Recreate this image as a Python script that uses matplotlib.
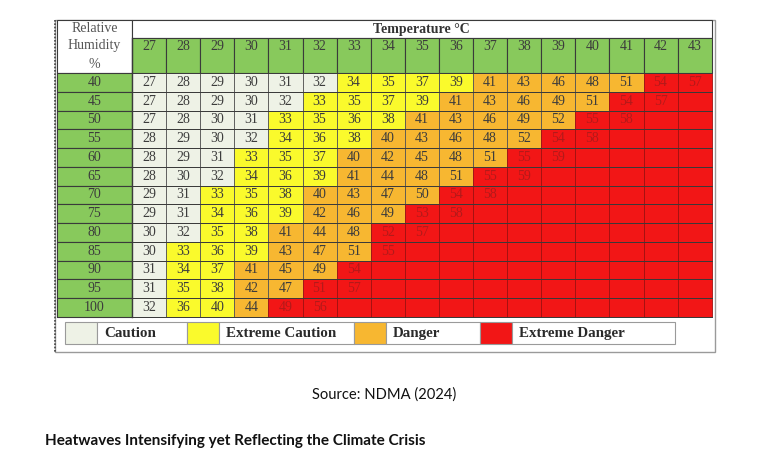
import matplotlib
matplotlib.use("Agg")
import matplotlib.pyplot as plt
from matplotlib.patches import Rectangle

# heat index table (NDMA 2024)
temps = list(range(27, 44))
humidity = [40, 45, 50, 55, 60, 65, 70, 75, 80, 85, 90, 95, 100]
heat_index = [
    [27, 28, 29, 30, 31, 32, 34, 35, 37, 39, 41, 43, 46, 48, 51, 54, 57],
    [27, 28, 29, 30, 32, 33, 35, 37, 39, 41, 43, 46, 49, 51, 54, 57],
    [27, 28, 30, 31, 33, 35, 36, 38, 41, 43, 46, 49, 52, 55, 58],
    [28, 29, 30, 32, 34, 36, 38, 40, 43, 46, 48, 52, 54, 58],
    [28, 29, 31, 33, 35, 37, 40, 42, 45, 48, 51, 55, 59],
    [28, 30, 32, 34, 36, 39, 41, 44, 48, 51, 55, 59],
    [29, 31, 33, 35, 38, 40, 43, 47, 50, 54, 58],
    [29, 31, 34, 36, 39, 42, 46, 49, 53, 58],
    [30, 32, 35, 38, 41, 44, 48, 52, 57],
    [30, 33, 36, 39, 43, 47, 51, 55],
    [31, 34, 37, 41, 45, 49, 54],
    [31, 35, 38, 42, 47, 51, 57],
    [32, 36, 40, 44, 49, 56],
]
# risk level of each cell: 0 caution, 1 extreme caution, 2 danger, 3 extreme danger
levels = [
    "00000011112222233",
    "00000111122222333",
    "00001111222223333",
    "00001112222233333",
    "00011122222333333",
    "00011122223333333",
    "00111222233333333",
    "00111222333333333",
    "00112223333333333",
    "01112223333333333",
    "01122233333333333",
    "01122333333333333",
    "01123333333333333",
]
categories = ["Caution", "Extreme Caution", "Danger", "Extreme Danger"]
cat_colors = ["#eef2e6", "#fafa2c", "#f7b731", "#f21616"]
text_colors = ["#3c3c3c", "#3c3c3c", "#3c3c3c", "#b31a1a"]
green = "#88c95c"
grid = "#3a3a3a"
serif = "Liberation Serif"

fig = plt.figure(figsize=(7.8, 4.7), dpi=100)
ax = fig.add_axes([0, 0, 1, 1])
ax.set_xlim(0, 780)
ax.set_ylim(470, 0)
ax.axis("off")

# layout (pixels)
left, lab_w = 57, 75
x0, cw = left + lab_w, 34.1
top, title_h, head_h = 20, 18, 35
y0, rh = top + title_h + head_h, 18.75
x_end = x0 + cw * len(temps)
y_end = y0 + rh * len(humidity)
fs = 10

# outer frame
ax.add_patch(Rectangle((left - 2, top), x_end - left + 5, 332, fill=False,
                       ec="#9a9a9a", lw=1.0))
ax.plot([left - 2, left - 2], [top, top + 332], color="#444444", lw=1.2, ls=(0, (1, 1)))

# header cells
ax.add_patch(Rectangle((left, top), lab_w, title_h + head_h, fc="white", ec=grid, lw=0.8))
ax.add_patch(Rectangle((x0, top), x_end - x0, title_h, fc="white", ec=grid, lw=0.8))
ax.text((x0 + x_end) / 2, top + title_h / 2 + 1, "Temperature °C", ha="center", va="center",
        fontsize=fs, fontweight="bold", family=serif, color="#333333")
for k, line in enumerate(["Relative", "Humidity", "%"]):
    ax.text(left + lab_w / 2, top + 8 + k * 18, line, ha="center", va="center",
            fontsize=fs, family=serif, color="#555555")
for j, t in enumerate(temps):
    ax.add_patch(Rectangle((x0 + j * cw, top + title_h), cw, head_h, fc=green, ec=grid, lw=0.8))
    ax.text(x0 + (j + 0.5) * cw, top + title_h + 9, str(t), ha="center", va="center",
            fontsize=fs, family=serif, color="#3c3c3c")

# body
for i, rhum in enumerate(humidity):
    y = y0 + i * rh
    ax.add_patch(Rectangle((left, y), lab_w, rh, fc=green, ec=grid, lw=0.8))
    ax.text(left + lab_w / 2, y + rh / 2, str(rhum), ha="center", va="center",
            fontsize=fs, family=serif, color="#3c3c3c")
    for j in range(len(temps)):
        lv = int(levels[i][j])
        ax.add_patch(Rectangle((x0 + j * cw, y), cw, rh, fc=cat_colors[lv],
                               ec="#555555" if lv < 3 else "#a01010", lw=0.6))
        if j < len(heat_index[i]):
            ax.text(x0 + (j + 0.5) * cw, y + rh / 2, str(heat_index[i][j]), ha="center",
                    va="center", fontsize=fs, family=serif, color=text_colors[lv])
# thicker separators
for i in range(len(humidity) + 1):
    ax.plot([left, x_end], [y0 + i * rh] * 2, color=grid, lw=0.7)
ax.plot([x0, x0], [top + title_h, y_end], color=grid, lw=1.0)

# legend
leg_y, leg_h = y_end + 5, 22
sw_x = [65, 187, 354, 480]
box_end = [187, 354, 480, 675]
sw_w = 32
for k, cat in enumerate(categories):
    ax.add_patch(Rectangle((sw_x[k], leg_y), sw_w, leg_h, fc=cat_colors[k], ec="#9a9a9a", lw=0.8))
    ax.add_patch(Rectangle((sw_x[k] + sw_w, leg_y), box_end[k] - sw_x[k] - sw_w, leg_h,
                           fc="white", ec="#9a9a9a", lw=0.8))
    ax.text(sw_x[k] + sw_w + 7, leg_y + leg_h / 2 + 0.5, cat, ha="left", va="center",
            fontsize=10.8, fontweight="bold", family=serif, color="#2a2a2a")

fig.text(384 / 780, 1 - 395 / 470, "Source: NDMA (2024)", ha="center", va="center",
         fontsize=10.6, family="Lato", color="#111111")
fig.text(45 / 780, 1 - 441 / 470, "Heatwaves Intensifying yet Reflecting the Climate Crisis",
         ha="left", va="center", fontsize=11.0, fontweight="bold", family="Lato", color="#111111")

fig.savefig("out.png", dpi=100)
